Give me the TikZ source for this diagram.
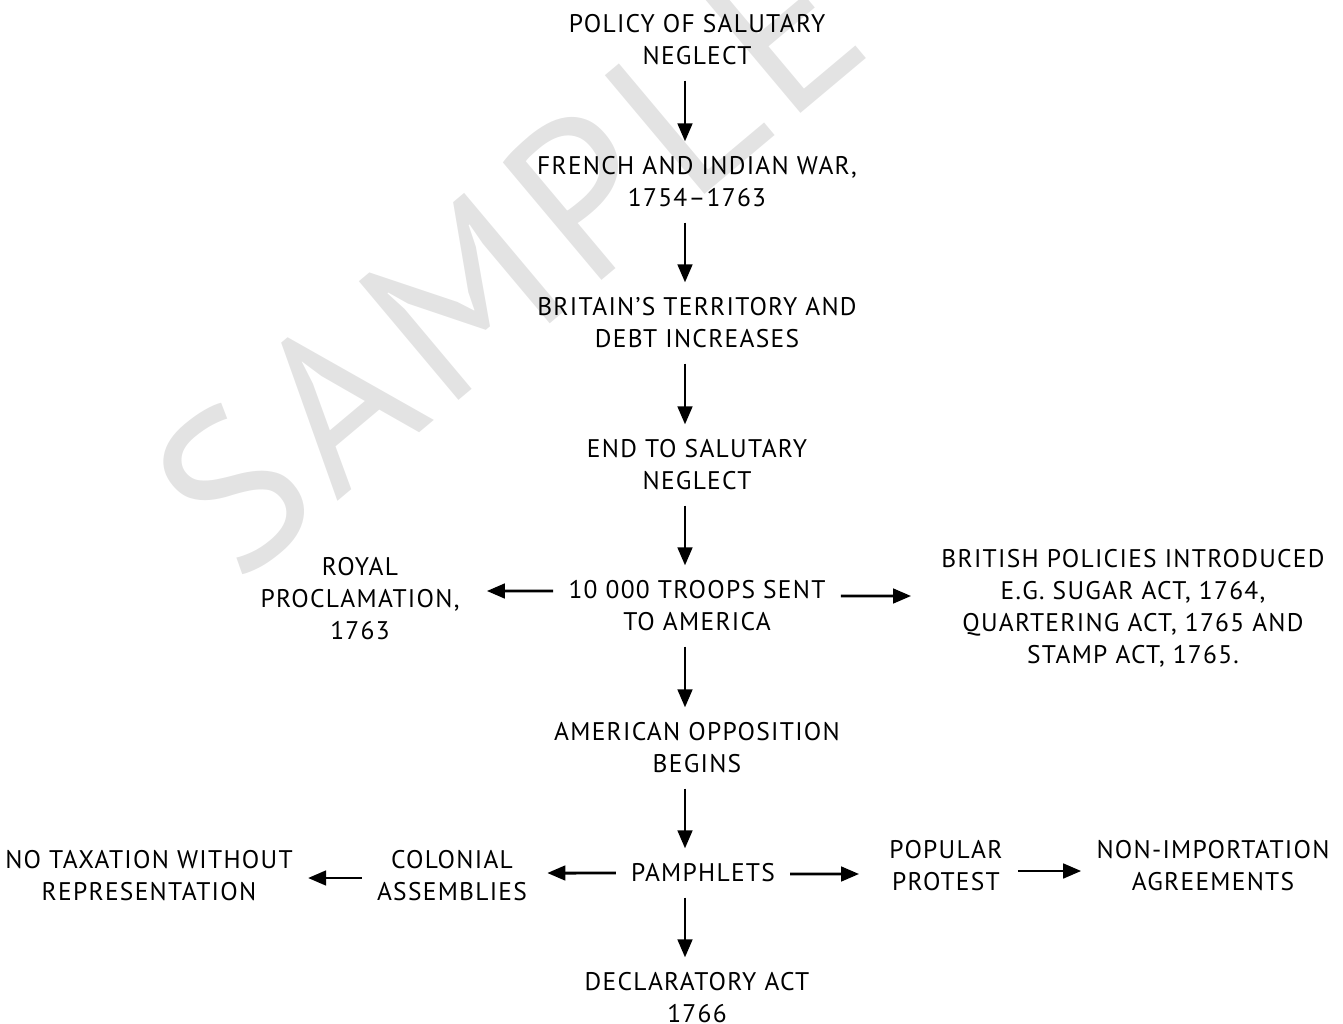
\documentclass[tikz,border=0pt]{standalone}
\usepackage{fontspec}
\usetikzlibrary{arrows.meta}
\setmainfont[LetterSpace=5]{PT Sans}
\begin{document}
\begin{tikzpicture}[x=0.02cm,y=-0.02cm,
  box/.style={align=center,inner sep=0.3cm,font=\fontsize{14.5}{18.2}\selectfont},
  arr/.style={-{Triangle[length=0.36cm,width=0.29cm]},line width=1.7pt}]
\useasboundingbox (0,0) rectangle (1343,1024);
% watermark
\node[rotate=40,text=black!11,font=\fontsize{126}{126}\selectfont] (wm) at (508,258) {SAMPLE};
\coordinate (spine) at (685,0);
% main column
\node[box] (policy) at (697,40) {POLICY OF SALUTARY\\NEGLECT};
\node[box] (war) at (697,182) {FRENCH AND INDIAN WAR,\\1754--1763};
\node[box] (britain) at (697,323) {BRITAIN’S TERRITORY AND\\DEBT INCREASES};
\node[box] (endneg) at (697,465) {END TO SALUTARY\\NEGLECT};
\node[box] (troops) at (697,606) {10 000 TROOPS SENT\\TO AMERICA};
\node[box] (royal) at (360,599) {ROYAL\\PROCLAMATION,\\1763};
\node[box] (british) at (1133,608) {BRITISH POLICIES INTRODUCED\\E.G. SUGAR ACT, 1764,\\QUARTERING ACT, 1765 AND\\STAMP ACT, 1765.};
\node[box] (opposition) at (697,748) {AMERICAN OPPOSITION\\BEGINS};
\node[box] (pamph) at (703,873) {PAMPHLETS};
\node[box] (colonial) at (452,876) {COLONIAL\\ASSEMBLIES};
\node[box] (notax) at (149,876) {NO TAXATION WITHOUT\\REPRESENTATION};
\node[box] (popular) at (946,866) {POPULAR\\PROTEST};
\node[box] (nonimp) at (1213,866) {NON-IMPORTATION\\AGREEMENTS};
\node[box] (declar) at (697,998) {DECLARATORY ACT\\1766};
% arrows
\draw[arr] (policy.south -| spine) -- (war.north -| spine);
\draw[arr] (war.south -| spine) -- (britain.north -| spine);
\draw[arr] (britain.south -| spine) -- (endneg.north -| spine);
\draw[arr] (endneg.south -| spine) -- (troops.north -| spine);
\draw[arr] (troops.south -| spine) -- (opposition.north -| spine);
\draw[arr] (opposition.south -| spine) -- (pamph.north -| spine);
\draw[arr] (pamph.south -| spine) -- (declar.north -| spine);
\draw[arr,shorten >=.24cm] ([yshift=.3cm]troops.west) -- ([yshift=.16cm]royal.east);
\draw[arr,shorten >=.3cm] ([yshift=.2cm]troops.east) -- ([yshift=.24cm]british.west);
\draw[arr,shorten >=.1cm] (pamph.west) -- ([yshift=.06cm]colonial.east);
\draw[arr,shorten >=.3cm] ([yshift=-.02cm]pamph.east) -- ([yshift=-.16cm]popular.west);
\draw[arr] ([yshift=-.04cm]colonial.west) -- ([yshift=-.04cm]notax.east);
\draw[arr] ([yshift=-.1cm]popular.east) -- ([yshift=-.1cm]nonimp.west);
\end{tikzpicture}
\end{document}
